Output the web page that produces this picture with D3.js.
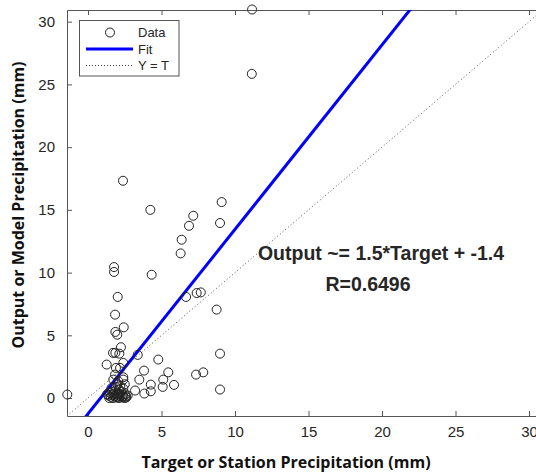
<!DOCTYPE html>
<html>
<head>
<meta charset="utf-8">
<script src="https://cdn.jsdelivr.net/npm/d3@7"></script>
<style>
    body { margin: 0; background: #fff; }
    svg { display: block; }
</style>
</head>
<body>
<div id="chart"></div>
<script>
// Scatter data (target mm, output mm)
const targetVals = [
    11.16, 11.14, 2.38, 4.24, 9.09, 7.16, 6.87, 8.98, 6.37, 6.30,
    1.77, 1.77, 4.33, 2.02, 6.67, 7.39, 7.67, 8.75, 1.84, 1.86,
    1.99, 2.43, 2.24, 1.70, 1.86, 2.13, 3.38, 8.98, 4.78, 1.27,
    2.40, 1.90, 2.18, 3.81, 5.46, 7.84, 7.35, 3.49, 5.12, 4.27,
    5.85, 5.08, 8.98, 3.20, 3.83, 4.27, -1.41,
    1.72, 2.40, 1.84, 2.40, 2.06, 2.50, 2.00, 2.58,
    1.30, 1.40, 1.50, 1.55, 1.60, 1.65, 1.70, 1.75, 1.80, 1.85,
    1.90, 1.95, 2.00, 2.00, 2.05, 2.10, 2.15, 2.20, 2.25, 2.30,
    2.35, 2.40, 2.50, 2.55, 2.60, 2.70, 1.45, 1.60, 2.10, 2.40,
    1.90, 2.20
];
const outputVals = [
    30.97, 25.84, 17.32, 15.00, 15.62, 14.53, 13.73, 13.95, 12.62, 11.53,
    10.44, 10.05, 9.83, 8.06, 8.06, 8.37, 8.42, 7.05, 6.65, 5.27,
    5.05, 5.64, 4.05, 3.60, 3.60, 3.54, 3.44, 3.54, 3.07, 2.67,
    2.80, 2.40, 2.40, 2.19, 2.05, 2.05, 1.87, 1.47, 1.47, 1.07,
    1.05, 0.89, 0.68, 0.60, 0.36, 0.54, 0.28,
    1.47, 1.47, 1.87, 1.66, 1.34, 1.10, 1.10, 0.14,
    0.30, 0.20, 0.40, 0.10, 0.50, 0.25, 0.00, 0.35, 0.15, 0.60,
    0.05, 0.30, 0.45, 0.10, 0.20, 0.00, 0.35, 0.15, 0.50, 0.05,
    0.25, 0.10, 0.00, 0.30, 0.05, 0.20, 0.00, 0.80, 0.70, 0.75,
    0.90, 0.95
];

// Fitted line and axis settings
const fitSlope = 1.47;
const fitIntercept = -1.25;
const axisLimits = [-1.43, 30.93];
const tickValues = [0, 5, 10, 15, 20, 25, 30];

const legendLabels = ["Data", "Fit", "Y = T"];
const fitText = "Output ~= 1.5*Target + -1.4";
const rText = "R=0.6496";
const xTitle = "Target or Station Precipitation (mm)";
const yTitle = "Output or Model Precipitation (mm)";

const width = 536, height = 472;
const plot = { left: 67, top: 10, bottom: 416, right: 542.7 };
const axisColor = "#555";
const textColor = "#262626";

const svg = d3.select("#chart")
    .append("svg")
    .attr("width", width)
    .attr("height", height);

svg.append("rect")
    .attr("width", width)
    .attr("height", height)
    .attr("fill", "#fff");

const x = d3.scaleLinear().domain(axisLimits).range([plot.left, plot.right]);
const y = d3.scaleLinear().domain(axisLimits).range([plot.bottom, plot.top]);

svg.append("clipPath")
    .attr("id", "plot-clip")
    .append("rect")
    .attr("x", plot.left)
    .attr("y", plot.top)
    .attr("width", plot.right - plot.left)
    .attr("height", plot.bottom - plot.top);

// Axes (ticks point inward, like MATLAB)
function styleAxis(g) {
    g.selectAll("path").attr("stroke", axisColor).attr("stroke-width", 1);
    g.selectAll("line").attr("stroke", axisColor);
    g.selectAll("text")
        .attr("fill", textColor)
        .style("font-family", "'Liberation Sans', Arial, sans-serif")
        .style("font-size", "15px");
}

svg.append("g")
    .attr("transform", `translate(0,${plot.bottom})`)
    .call(d3.axisBottom(x).tickValues(tickValues).tickSizeInner(-5).tickSizeOuter(0).tickPadding(10))
    .call(styleAxis);

svg.append("g")
    .attr("transform", `translate(${plot.left},0)`)
    .call(d3.axisLeft(y).tickValues(tickValues).tickSizeInner(-5).tickSizeOuter(0).tickPadding(12))
    .call(styleAxis);

svg.append("g")
    .attr("transform", `translate(0,${plot.top})`)
    .call(d3.axisTop(x).tickValues(tickValues).tickSizeInner(-5).tickSizeOuter(0).tickFormat(""))
    .call(styleAxis);

svg.append("g")
    .attr("transform", `translate(${plot.right},0)`)
    .call(d3.axisRight(y).tickValues(tickValues).tickSizeInner(-5).tickSizeOuter(0).tickFormat(""))
    .call(styleAxis);

const lines = svg.append("g").attr("clip-path", "url(#plot-clip)");

// Y = T reference line
lines.append("line")
    .attr("x1", x(axisLimits[0])).attr("y1", y(axisLimits[0]))
    .attr("x2", x(axisLimits[1])).attr("y2", y(axisLimits[1]))
    .attr("stroke", "#555")
    .attr("stroke-width", 1)
    .attr("stroke-dasharray", "1,2.5");

// Fit line
lines.append("line")
    .attr("x1", x(axisLimits[0])).attr("y1", y(fitSlope * axisLimits[0] + fitIntercept))
    .attr("x2", x(axisLimits[1])).attr("y2", y(fitSlope * axisLimits[1] + fitIntercept))
    .attr("stroke", "#0000ff")
    .attr("stroke-width", 3);

// Data points
const points = targetVals.map((t, i) => ({ t: t, o: outputVals[i] }));
svg.append("g")
    .selectAll("circle")
    .data(points)
    .enter()
    .append("circle")
    .attr("cx", d => x(d.t))
    .attr("cy", d => y(d.o))
    .attr("r", 4.5)
    .attr("fill", "none")
    .attr("stroke", "#222")
    .attr("stroke-width", 1);

// Annotation text
svg.append("text")
    .attr("x", 381)
    .attr("y", 260)
    .attr("text-anchor", "middle")
    .attr("fill", textColor)
    .style("font-family", "'Liberation Sans', Arial, sans-serif")
    .style("font-weight", "bold")
    .style("font-size", "19.5px")
    .text(fitText);

svg.append("text")
    .attr("x", 368)
    .attr("y", 291)
    .attr("text-anchor", "middle")
    .attr("fill", textColor)
    .style("font-family", "'Liberation Sans', Arial, sans-serif")
    .style("font-weight", "bold")
    .style("font-size", "19.5px")
    .text(rText);

// Axis titles
svg.append("text")
    .attr("x", 286)
    .attr("y", 468)
    .attr("text-anchor", "middle")
    .attr("fill", "#111")
    .style("font-family", "'Open Sans', sans-serif")
    .style("font-weight", "bold")
    .style("font-size", "16px")
    .text(xTitle);

svg.append("text")
    .attr("transform", "translate(24,205) rotate(-90)")
    .attr("text-anchor", "middle")
    .attr("fill", "#111")
    .style("font-family", "'Open Sans', sans-serif")
    .style("font-weight", "bold")
    .style("font-size", "16px")
    .text(yTitle);

// Legend
const legend = svg.append("g");
legend.append("rect")
    .attr("x", 79.5).attr("y", 20.5)
    .attr("width", 99.5).attr("height", 55.5)
    .attr("fill", "#fff")
    .attr("stroke", axisColor);

const legendY = [32.5, 49, 65.5];
legend.append("circle")
    .attr("cx", 110).attr("cy", legendY[0]).attr("r", 4.5)
    .attr("fill", "none").attr("stroke", "#222");
legend.append("line")
    .attr("x1", 86).attr("x2", 133).attr("y1", legendY[1]).attr("y2", legendY[1])
    .attr("stroke", "#0000ff").attr("stroke-width", 3);
legend.append("line")
    .attr("x1", 86).attr("x2", 133).attr("y1", legendY[2]).attr("y2", legendY[2])
    .attr("stroke", "#444").attr("stroke-dasharray", "1,2");

legend.selectAll("text.lab")
    .data(legendLabels)
    .enter()
    .append("text")
    .attr("class", "lab")
    .attr("x", 138)
    .attr("y", (d, i) => legendY[i] + 4.5)
    .attr("fill", textColor)
    .style("font-family", "'Liberation Sans', Arial, sans-serif")
    .style("font-size", "13px")
    .text(d => d);
</script>
</body>
</html>
